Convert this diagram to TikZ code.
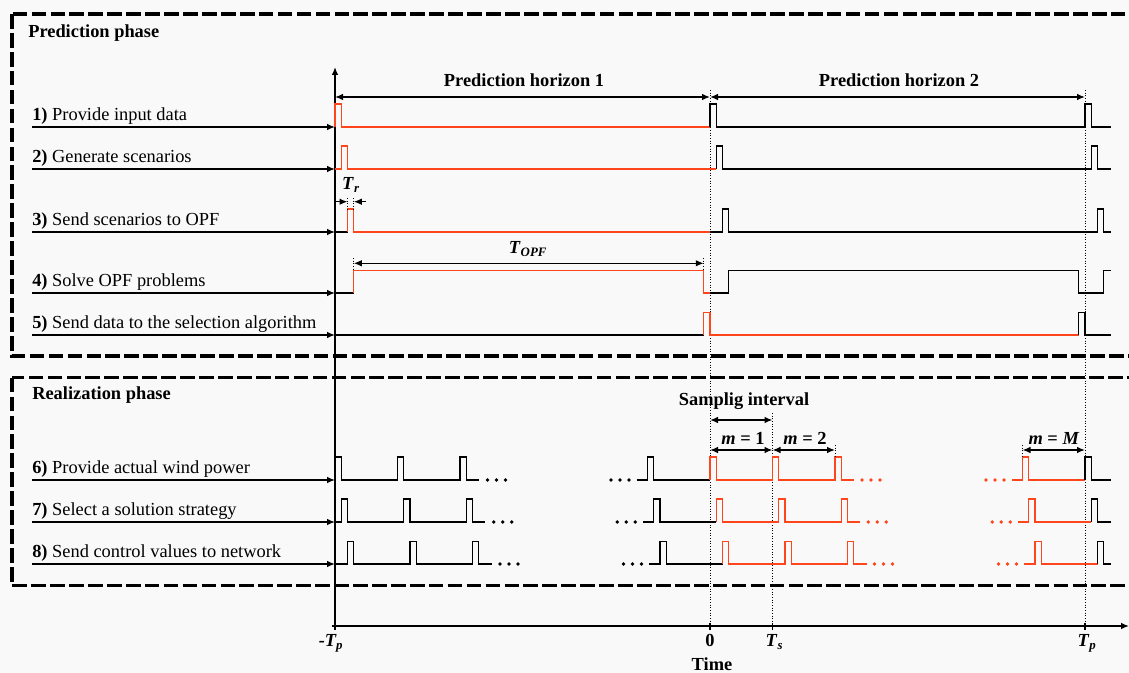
\documentclass[tikz,border=0pt]{standalone}
\usepackage{fontspec}
\setmainfont{Liberation Serif}
\usetikzlibrary{arrows.meta}
\definecolor{sig}{HTML}{FF451C}
\definecolor{bgc}{HTML}{F9F9F9}
\newcommand{\bi}[1]{\textbf{\textit{#1}}}
\begin{document}
\begin{tikzpicture}[x=0.75pt, y=-0.75pt,
  font=\fontsize{13.8}{16}\selectfont,
  wave/.style={line width=1.1pt, line join=miter},
  redwave/.style={wave, draw=sig},
  blkwave/.style={wave, draw=black},
  feed/.style={line width=1.1pt, -{Latex[length=6pt,width=5pt]}},
  dimarrow/.style={line width=1.1pt, {Latex[length=6pt,width=5pt]}-{Latex[length=6pt,width=5pt]}},
  guide/.style={line width=0.75pt, dash pattern=on 0.8pt off 1.2pt},
  phasebox/.style={line width=2.4pt, dash pattern=on 11pt off 3.2pt},
  lbl/.style={anchor=base west, inner sep=0pt},
  ttl/.style={anchor=base, inner sep=0pt, font=\fontsize{13.8}{16}\selectfont\bfseries},
  bdot/.style={fill=black},
  rdot/.style={fill=sig}]
\fill[bgc] (0,0) rectangle (1129,673);
\useasboundingbox (0,0) rectangle (1129,673);

% phase boxes
\draw[phasebox] (12,14) rectangle (1145,356);
\draw[phasebox] (12,377.7) rectangle (1145,585.7);
\node[lbl, font=\fontsize{13.8}{16}\selectfont\bfseries] (pp) at (28,37.3) {Prediction phase};
\node[lbl, font=\fontsize{13.8}{16}\selectfont\bfseries] (rp) at (32,400) {Realization phase};

% guides
\coordinate (g0t) at (710,90);   \coordinate (g0b) at (710,626);
\coordinate (gpt) at (1085,90);  \coordinate (gpb) at (1085,626);
\coordinate (gst) at (772.5,413); \coordinate (gsb) at (772.5,626);
\draw[guide] (g0t) -- (g0b);
\draw[guide] (gpt) -- (gpb);
\draw[guide] (gst) -- (gsb);

% axes
\coordinate (vb) at (335,626); \coordinate (vt) at (335,67);
\coordinate (hs) at (332,626); \coordinate (he) at (1129,626);
\draw[feed] (vb) -- (vt);
\draw[feed] (hs) -- (he);
\foreach \tx in {335,710,772.5,1085} \draw[line width=0.8pt] (\tx,622.5) -- (\tx,629.5);
\node[ttl, font=\fontsize{13.8}{16}\selectfont\bfseries\itshape] (tm) at (331,646.5) {-\bi{T}\textsubscript{\bi{p}}};
\node[ttl] (t0) at (710,646.5) {0};
\node[ttl] (tts) at (774.5,646.5) {\bi{T}\textsubscript{\bi{s}}};
\node[ttl] (ttp) at (1087,646.5) {\bi{T}\textsubscript{\bi{p}}};
\node[ttl] (time) at (712,670.5) {Time};

% row labels and feed arrows
\foreach \n/\yy/\txt in {1/127/{\textbf{1)} Provide input data},
                         2/169/{\textbf{2)} Generate scenarios},
                         3/232/{\textbf{3)} Send scenarios to OPF},
                         4/293/{\textbf{4)} Solve OPF problems},
                         5/335/{\textbf{5)} Send data to the selection algorithm},
                         6/480/{\textbf{6)} Provide actual wind power},
                         7/522/{\textbf{7)} Select a solution strategy},
                         8/564/{\textbf{8)} Send control values to network}}{
  \node[lbl] (lab\n) at (32,\yy-6.5) {\txt};
  \coordinate (fs\n) at (32,\yy);
  \coordinate (fe\n) at (335,\yy);
  \draw[feed] (fs\n) -- (fe\n);
}

% prediction horizons
\coordinate (h1a) at (335,97); \coordinate (h1b) at (710,97); \coordinate (h2b) at (1085,97);
\draw[dimarrow] (h1a) -- (h1b);
\draw[dimarrow] (h1b) -- (h2b);
\node[ttl] (ph1) at (524,86.7) {Prediction horizon 1};
\node[ttl] (ph2) at (899,86.7) {Prediction horizon 2};

% Row 1
\draw[redwave] (335,127) -- (335,104) -- (341.25,104) -- (341.25,127) -- (710,127);
\draw[blkwave] (710,127) -- (710,104) -- (716.25,104) -- (716.25,127) -- (1085,127) -- (1085,104) -- (1091.25,104) -- (1091.25,127) -- (1111,127);
% Row 2
\draw[redwave] (335,169) -- (341.25,169) -- (341.25,146) -- (347.5,146) -- (347.5,169) -- (716.25,169);
\draw[blkwave] (716.25,169) -- (716.25,146) -- (722.5,146) -- (722.5,169) -- (1091.25,169) -- (1091.25,146) -- (1097.5,146) -- (1097.5,169) -- (1111,169);
% Row 3
\draw[blkwave, line width=0.8pt] (335,232) -- (347.5,232);
\draw[redwave, line width=0.8pt] (347.5,232) -- (347.5,209) -- (353.75,209) -- (353.75,232) -- (710,232);
\draw[blkwave, line width=0.8pt] (710,232) -- (722.5,232) -- (722.5,209) -- (728.75,209) -- (728.75,232) -- (1097.5,232) -- (1097.5,209) -- (1103.75,209) -- (1103.75,232) -- (1111,232);
% Tr
\coordinate (tra) at (335,201.7); \coordinate (trb) at (347.5,201.7);
\coordinate (trc) at (366,201.7); \coordinate (trd) at (353.75,201.7);
\draw[guide] (347.5,198) -- (347.5,209);
\draw[guide] (353.75,198) -- (353.75,209);
\draw[feed] (tra) -- (trb);
\draw[feed] (trc) -- (trd);
\node[ttl] (tr) at (351,189.3) {\bi{T}\textsubscript{\bi{r}}};
% Row 4
\draw[blkwave] (335,293) -- (353.75,293);
\draw[redwave] (353.75,293) -- (353.75,270.5) -- (703.75,270.5) -- (703.75,293) -- (710,293);
\draw[blkwave] (710,293) -- (728.75,293) -- (728.75,270.5) -- (1078.75,270.5) -- (1078.75,293) -- (1103.75,293) -- (1103.75,270.5) -- (1111,270.5);
% TOPF
\coordinate (opa) at (353.75,263.3); \coordinate (opb) at (703.75,263.3);
\draw[guide] (353.75,258) -- (353.75,270.5);
\draw[guide] (703.75,258) -- (703.75,270.5);
\draw[dimarrow] (opa) -- (opb);
\node[ttl] (topf) at (528,254) {\bi{T}\textsubscript{\bi{OPF}}};
% Row 5
\draw[blkwave] (335,335) -- (703.75,335);
\draw[redwave] (703.75,335) -- (703.75,312.5) -- (710,312.5) -- (710,335) -- (1078.75,335);
\draw[blkwave] (1078.75,335) -- (1078.75,312.5) -- (1085,312.5) -- (1085,335) -- (1111,335);

% Row 6
\draw[blkwave] (335,480) -- (335,457) -- (341.25,457) -- (341.25,480) -- (397.5,480) -- (397.5,457) -- (403.75,457) -- (403.75,480) -- (460,480) -- (460,457) -- (466.25,457) -- (466.25,480) -- (479,480);
\draw[blkwave] (636.5,480) -- (647.5,480) -- (647.5,457) -- (653.75,457) -- (653.75,480) -- (710,480);
\draw[redwave] (710,480) -- (710,457) -- (716.25,457) -- (716.25,480) -- (772.5,480) -- (772.5,457) -- (778.75,457) -- (778.75,480) -- (835,480) -- (835,457) -- (841.25,457) -- (841.25,480) -- (854,480);
\draw[redwave] (1011.5,480) -- (1022.5,480) -- (1022.5,457) -- (1028.75,457) -- (1028.75,480) -- (1085,480);
\draw[blkwave] (1085,480) -- (1085,457) -- (1091.25,457) -- (1091.25,480) -- (1111,480);
\foreach \dx in {487.5,496.5,505.5,611,620,629} \fill[bdot] (\dx,480) circle[radius=1.8];
\foreach \dx in {862,871,880,986,995,1004} \fill[rdot] (\dx,480) circle[radius=1.8];
% Row 7
\draw[blkwave] (335,522) -- (341.25,522) -- (341.25,499) -- (347.5,499) -- (347.5,522) -- (403.75,522) -- (403.75,499) -- (410,499) -- (410,522) -- (466.25,522) -- (466.25,499) -- (472.5,499) -- (472.5,522) -- (485.25,522);
\draw[blkwave] (642.75,522) -- (653.75,522) -- (653.75,499) -- (660,499) -- (660,522) -- (716.25,522);
\draw[redwave] (716.25,522) -- (716.25,499) -- (722.5,499) -- (722.5,522) -- (778.75,522) -- (778.75,499) -- (785,499) -- (785,522) -- (841.25,522) -- (841.25,499) -- (847.5,499) -- (847.5,522) -- (860.25,522);
\draw[redwave] (1017.75,522) -- (1028.75,522) -- (1028.75,499) -- (1035,499) -- (1035,522) -- (1091.25,522);
\draw[blkwave] (1091.25,522) -- (1091.25,499) -- (1097.5,499) -- (1097.5,522) -- (1111,522);
\foreach \dx in {493.75,502.75,511.75,617.25,626.25,635.25} \fill[bdot] (\dx,522) circle[radius=1.8];
\foreach \dx in {868.25,877.25,886.25,992.25,1001.25,1010.25} \fill[rdot] (\dx,522) circle[radius=1.8];
% Row 8
\draw[blkwave] (335,564) -- (347.5,564) -- (347.5,541.5) -- (353.75,541.5) -- (353.75,564) -- (410,564) -- (410,541.5) -- (416.25,541.5) -- (416.25,564) -- (472.5,564) -- (472.5,541.5) -- (478.75,541.5) -- (478.75,564) -- (491.5,564);
\draw[blkwave] (649,564) -- (660,564) -- (660,541.5) -- (666.25,541.5) -- (666.25,564) -- (722.5,564);
\draw[redwave] (722.5,564) -- (722.5,541.5) -- (728.75,541.5) -- (728.75,564) -- (785,564) -- (785,541.5) -- (791.25,541.5) -- (791.25,564) -- (847.5,564) -- (847.5,541.5) -- (853.75,541.5) -- (853.75,564) -- (866.5,564);
\draw[redwave] (1024,564) -- (1035,564) -- (1035,541.5) -- (1041.25,541.5) -- (1041.25,564) -- (1097.5,564);
\draw[blkwave] (1097.5,564) -- (1097.5,541.5) -- (1103.75,541.5) -- (1103.75,564) -- (1111,564);
\foreach \dx in {500,509,518,623.5,632.5,641.5} \fill[bdot] (\dx,564) circle[radius=1.8];
\foreach \dx in {874.5,883.5,892.5,998.5,1007.5,1016.5} \fill[rdot] (\dx,564) circle[radius=1.8];

% sampling interval annotations
\node[ttl] (si) at (744,406) {Samplig interval};
\coordinate (sa) at (710,420); \coordinate (sb) at (772.5,420);
\draw[dimarrow] (sa) -- (sb);
\coordinate (m1a) at (710,450); \coordinate (m1b) at (772.5,450);
\coordinate (m2b) at (835,450);
\coordinate (mMa) at (1022.5,450); \coordinate (mMb) at (1085,450);
\draw[guide] (835,445) -- (835,457);
\draw[guide] (1022.5,445) -- (1022.5,457);
\draw[dimarrow] (m1a) -- (m1b);
\draw[dimarrow] (m1b) -- (m2b);
\draw[dimarrow] (mMa) -- (mMb);
\node[ttl] (m1) at (743,444.3) {\bi{m} = 1};
\node[ttl] (m2) at (805,444.3) {\bi{m} = 2};
\node[ttl] (mM) at (1054,444.3) {\bi{m} = \bi{M}};
\end{tikzpicture}
\end{document}
